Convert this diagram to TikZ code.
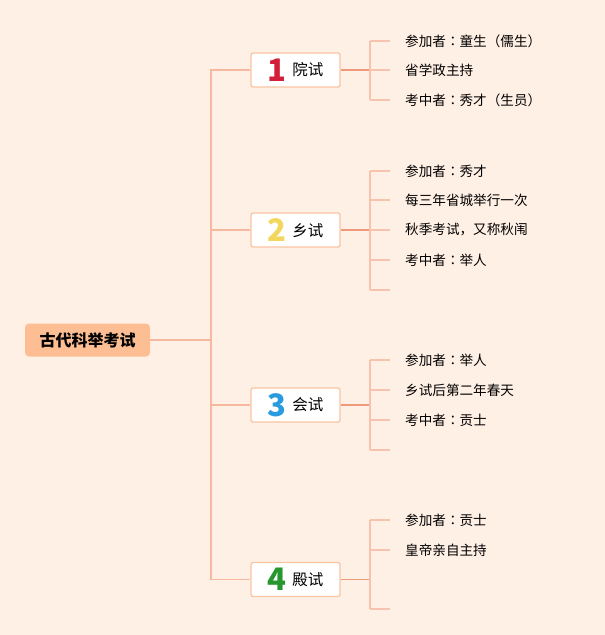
\documentclass[tikz,border=0pt]{standalone}
\usepackage{fontspec}
\newfontfamily\cjk{Noto Sans CJK SC}
\newfontfamily\cjktc{Noto Sans CJK TC}
\usepackage{tikz}
\usetikzlibrary{calc}

\definecolor{bgpeach}{HTML}{FFF0E6}
\definecolor{rootfill}{HTML}{FDBE94}
\definecolor{boxedge}{HTML}{F8C4A2}
\definecolor{trunkcol}{HTML}{F6B9A0}
\definecolor{spinecol}{HTML}{F09A7C}
\definecolor{tickcol}{HTML}{F7C2AE}
\definecolor{numred}{HTML}{D3203A}
\definecolor{numyellow}{HTML}{F3D75C}
\definecolor{numblue}{HTML}{2A9BDF}
\definecolor{numgreen}{HTML}{27962F}

\tikzset{
    rootbox/.style={fill=rootfill, rounded corners=4pt, minimum width=125pt, minimum height=33pt, inner sep=0pt, font=\cjk\bfseries\fontsize{16}{18}\selectfont},
    exambox/.style={draw=boxedge, line width=1.3pt, fill=white, rounded corners=2pt, minimum width=89pt, minimum height=34pt, inner sep=0pt, font=\cjk\fontsize{15.5}{18}\selectfont},
    leaf/.style={anchor=west, inner sep=0pt, font=\cjk\fontsize{13.6}{16}\selectfont},
    trunkline/.style={draw=trunkcol, line width=1.3pt},
    spineline/.style={draw=spinecol, line width=1.6pt},
    tickline/.style={draw=tickcol, line width=1.3pt}
}
\newcommand{\examnum}[2]{\raisebox{-5.4pt}{\fontsize{31}{31}\selectfont\bfseries\color{#1}#2}\hspace{6pt}}
\newcommand{\cln}{{\cjktc ：}}

\begin{document}
\begin{tikzpicture}[x=1pt, y=-1pt]
    \fill[bgpeach] (0,0) rectangle (605,635);
    \useasboundingbox (0,0) rectangle (605,635);

    \node[rootbox] (root) at (87.5,340) {古代科举考试};

    \node[exambox] (e1) at (295.5,70) {\examnum{numred}{1}院试};
    \node[exambox] (e2) at (295.5,230) {\examnum{numyellow}{2}乡试};
    \node[exambox] (e3) at (295.5,405) {\examnum{numblue}{3}会试};
    \node[exambox] (e4) at (295.5,579.5) {\examnum{numgreen}{4}殿试};

    % trunk
    \coordinate (t0) at (211,340);
    \draw[trunkline] (root.east) -- (t0);
    \draw[trunkline] (e1.west) -- ++(-39.5,0) |- (e4.west);
    \draw[trunkline] (e2.west) -- ++(-39.5,0);
    \draw[trunkline] (e3.west) -- ++(-39.5,0);

    % spines
    \coordinate (s1) at (370,70);
    \coordinate (s2) at (370,230);
    \coordinate (s3) at (370,405);
    \coordinate (s4) at (370,579.5);
    \foreach \e in {1,2,3,4} {
        \draw[spineline] (e\e.east) -- (s\e);
    }
    \draw[tickline] (370,41) -- (370,100);
    \draw[tickline] (370,171) -- (370,290);
    \draw[tickline] (370,360) -- (370,450);
    \draw[tickline] (370,520) -- (370,609);

    % leaves
    \foreach \y/\t [count=\i] in {41/参加者\cln 童生（儒生）, 70/省学政主持, 100/考中者\cln 秀才（生员）,
        171/参加者\cln 秀才, 200/每三年省城举行一次, 230/{秋季考试，又称秋闱}, 260/考中者\cln 举人, 290/{},
        360/参加者\cln 举人, 390/乡试后第二年春天, 420/考中者\cln 贡士, 450/{},
        520/参加者\cln 贡士, 550/皇帝亲自主持, 609/{}} {
        \coordinate (k\i) at (390,\y);
        \draw[tickline] (370,\y) -- (k\i);
        \node[leaf] (l\i) at (405,\y) {\t};
    }
\end{tikzpicture}
\end{document}
